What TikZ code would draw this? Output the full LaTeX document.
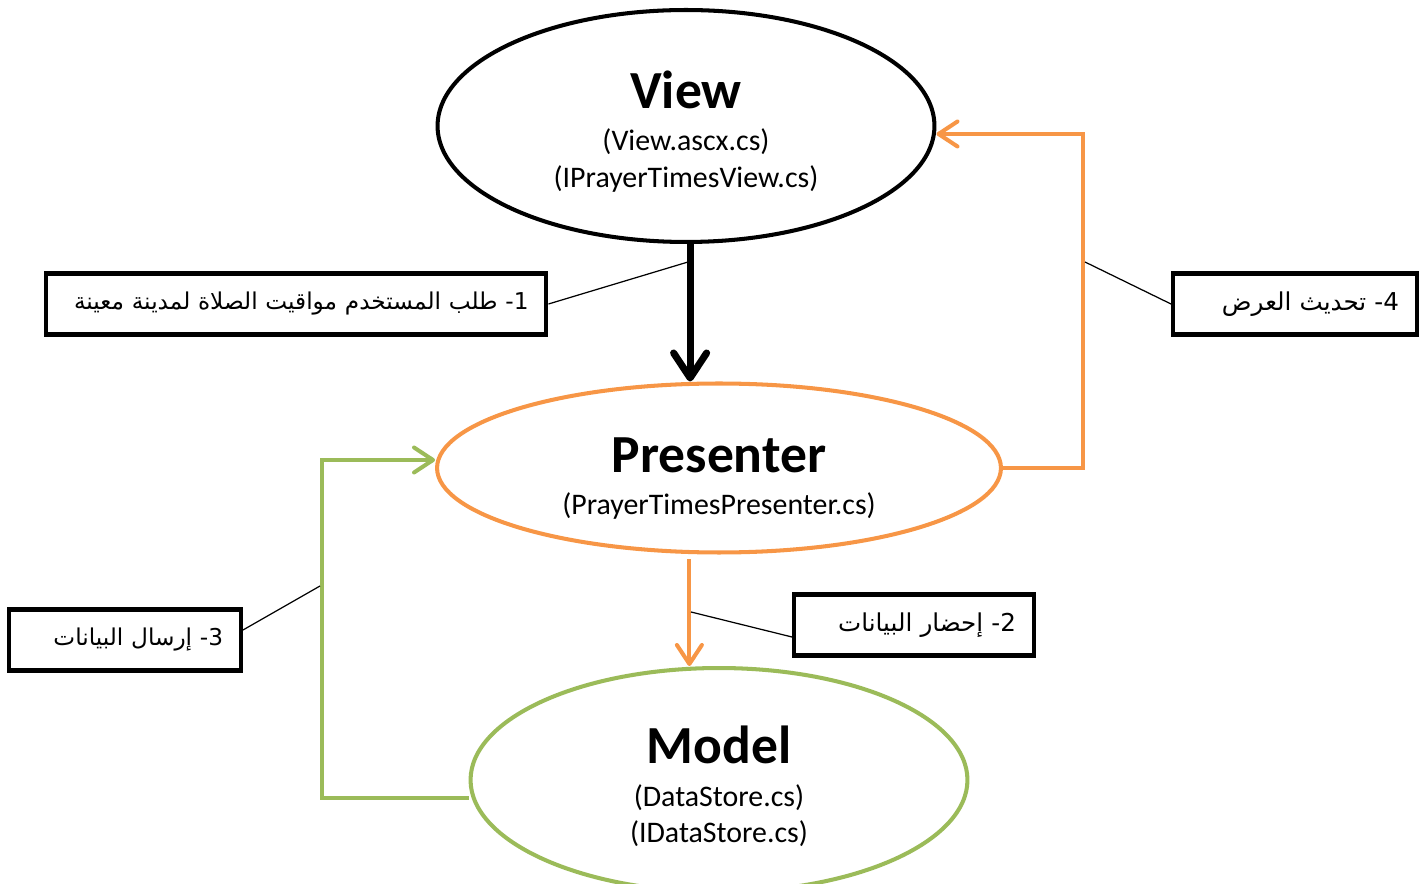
\documentclass[tikz,border=0pt]{standalone}
\usepackage{fontspec}
\setmainfont{Carlito}
\newfontfamily\arabicfont[Script=Arabic]{DejaVu Sans}
\TeXXeTstate=1
\usetikzlibrary{arrows.meta,shapes.geometric}
\definecolor{mvporange}{HTML}{F79646}
\definecolor{mvpgreen}{HTML}{9BBB59}
\newcommand{\parttitle}[2]{\rule{0pt}{#2}{\fontsize{30.5}{30}\selectfont\bfseries #1}}

\begin{document}
\begin{tikzpicture}[x=0.02cm, y=-0.02cm,
  part/.style={ellipse, line width=2.3pt, align=center, inner sep=0pt,
    font=\fontsize{17}{21}\selectfont},
  stepbox/.style={draw, line width=2.3pt, inner xsep=0.36cm, minimum height=1.22cm,
    align=right, font=\arabicfont\fontsize{14}{17}\selectfont},
  leader/.style={line width=0.7pt},
  bigarrow/.style={line width=4pt, -{Straight Barb[length=0.5cm, width=0.66cm, round]}},
  flow/.style={line width=2.3pt, -{Straight Barb[length=0.38cm, width=0.5cm, round]}}]
  \useasboundingbox (0,0) rectangle (1426,884);

  \node[part, draw=black, minimum width=9.94cm, minimum height=4.64cm] (view) at (686,126)
    {\parttitle{View}{28pt}\\[3pt](View.ascx.cs)\\(IPrayerTimesView.cs)};
  \node[part, draw=mvporange, minimum width=11.28cm, minimum height=3.38cm] (presenter) at (719,468)
    {\parttitle{Presenter}{32pt}\\[3pt](PrayerTimesPresenter.cs)};
  \node[part, draw=mvpgreen, minimum width=9.94cm, minimum height=4.48cm] (model) at (719,780)
    {\parttitle{Model}{29pt}\\[3pt](DataStore.cs)\\(IDataStore.cs)};

  \node[stepbox, text width=9.3cm, font=\arabicfont\fontsize{13.2}{16}\selectfont] (request) at (296,304)
    {\mbox{\beginR 1- طلب المستخدم مواقيت الصلاة لمدينة معينة\endR}};
  \node[stepbox, text width=4.08cm] (fetch) at (914,625)
    {\beginR 2- إحضار البيانات\endR};
  \node[stepbox, text width=3.92cm, font=\arabicfont\fontsize{13.2}{16}\selectfont] (send) at (125,640)
    {\beginR 3- إرسال البيانات\endR};
  \node[stepbox, text width=4.16cm] (refresh) at (1295,304)
    {\beginR 4- تحديث العرض\endR};

  \coordinate (fbtop) at (1083,134);
  \coordinate (gbottom) at (322,798);
  \coordinate (gtop) at (322,460);

  \draw[bigarrow] (view.272) -- (view.272 |- presenter.north);
  \draw[flow, mvporange] ([yshift=-0.1cm]presenter.251) -- (presenter.251 |- model.north);
  \draw[flow, mvporange] (presenter.east) -| (fbtop) -- (view.east |- fbtop);
  \draw[flow, mvpgreen] (model.west |- gbottom) -- (gbottom) -- (gtop) -- (presenter.west |- gtop);

  \coordinate (l1) at (688,262);
  \coordinate (l2) at (691,612);
  \coordinate (l3) at (320,586);
  \coordinate (l4) at (1085,262);
  \draw[leader] (request.east) -- (l1);
  \draw[leader] ([yshift=-0.24cm]fetch.west) -- (l2);
  \draw[leader] ([yshift=0.2cm]send.east) -- (l3);
  \draw[leader] (refresh.west) -- (l4);
\end{tikzpicture}
\end{document}
